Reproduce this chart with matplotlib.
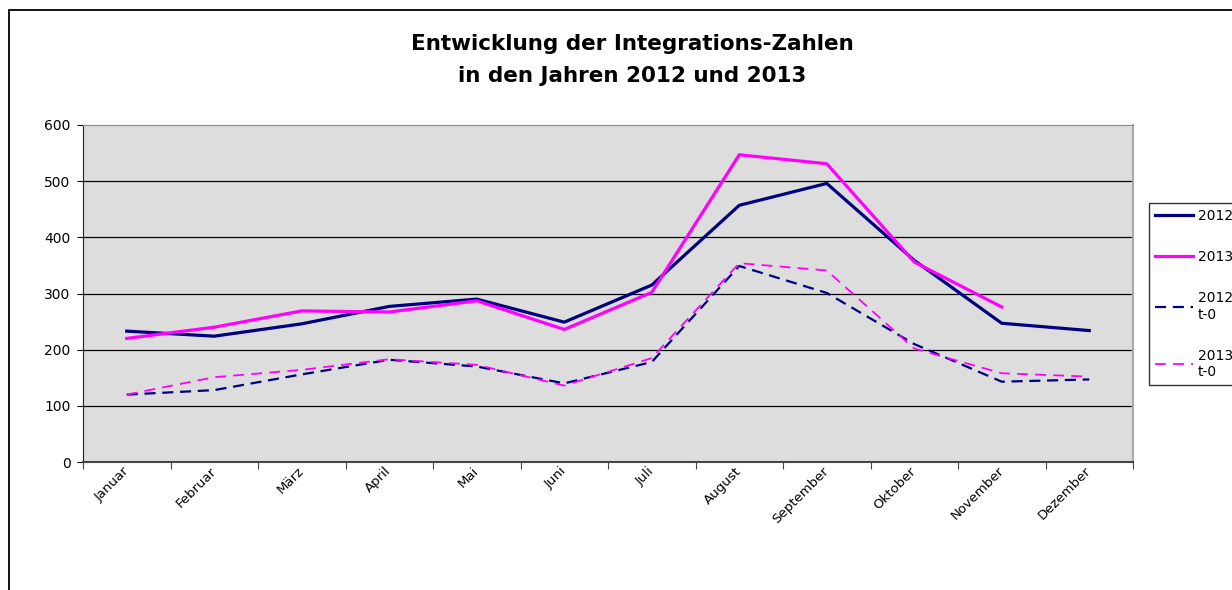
import matplotlib.pyplot as plt
from matplotlib.patches import Rectangle

plt.rcParams['font.family'] = ['DejaVu Sans']

monate = ['Januar', 'Februar', 'März', 'April', 'Mai', 'Juni', 'Juli',
          'August', 'September', 'Oktober', 'November', 'Dezember']
werte_2012 = [233, 224, 246, 277, 290, 249, 315, 457, 496, 359, 247, 234]
werte_2013 = [220, 240, 269, 267, 287, 236, 302, 547, 531, 356, 276]
werte_2012_t0 = [120, 128, 156, 182, 170, 140, 178, 349, 301, 210, 143, 147]
werte_2013_t0 = [120, 151, 164, 183, 173, 136, 185, 354, 341, 202, 158, 152]

navy = '#000080'
magenta = '#FF00FF'

fig = plt.figure(figsize=(12.32, 5.90), dpi=100)
ax = fig.add_axes([83 / 1232, 1 - 462 / 590, 1050 / 1232, 337 / 590])
ax.set_facecolor('#DDDDDD')

x = list(range(len(monate)))
ax.plot(x, werte_2012, color=navy, lw=2.3, label='2012')
ax.plot(x[:len(werte_2013)], werte_2013, color=magenta, lw=2.3, label='2013')
ax.plot(x, werte_2012_t0, color=navy, lw=1.6, dashes=(5, 3), label='2012\nt-0')
ax.plot(x, werte_2013_t0, color=magenta, lw=1.3, dashes=(6, 4), label='2013\nt-0')

ax.set_xlim(-0.5, len(monate) - 0.5)
ax.set_ylim(0, 600)
ax.set_yticks(range(0, 601, 100))
for v in range(100, 600, 100):
    ax.axhline(v, color='black', lw=0.9, zorder=1)

# tick marks between months, labels at month centers
ax.set_xticks([i - 0.5 for i in range(len(monate) + 1)])
ax.set_xticklabels([])
ax.set_xticks(x, minor=True)
ax.set_xticklabels(monate, minor=True, rotation=45, ha='right', va='center',
                   rotation_mode='anchor', fontsize=9.5)
ax.tick_params(axis='x', which='major', length=5, color='#444444')
ax.tick_params(axis='x', which='minor', length=0, pad=5)
ax.tick_params(axis='y', length=4, labelsize=10, pad=5)

ax.spines['left'].set_color('#222222')
ax.spines['bottom'].set_color('#444444')
ax.spines['bottom'].set_linewidth(1.5)
ax.spines['top'].set_color('#888888')
ax.spines['right'].set_color('#AAAAAA')
ax.spines['right'].set_linewidth(1.5)

fig.text(632 / 1232, 1 - 60 / 590,
         'Entwicklung der Integrations-Zahlen\nin den Jahren 2012 und 2013',
         ha='center', va='center', fontsize=15.5, fontweight='bold',
         linespacing=1.75)

leg = ax.legend(loc='upper left', bbox_to_anchor=(1149 / 1232, 1 - 203 / 590),
                bbox_transform=fig.transFigure, fontsize=10, frameon=True,
                fancybox=False, edgecolor='black', handlelength=2.7,
                handletextpad=0.35, labelspacing=1.95, borderpad=0.45,
                borderaxespad=0)
leg.get_frame().set_linewidth(1.0)

fig.patches.append(Rectangle((9 / 1232, -0.2), 1.2, 1 - 10 / 590 + 0.2,
                             transform=fig.transFigure, fill=False,
                             ec='black', lw=1.3))

fig.savefig('out.png', dpi=100)
